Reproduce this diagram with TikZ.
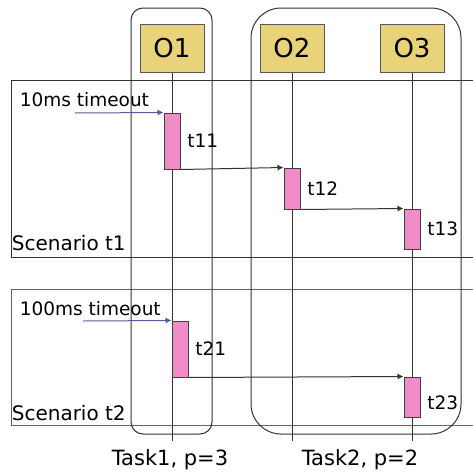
\documentclass[tikz,border=0pt]{standalone}
\usepackage{fontspec}
\setmainfont{DejaVu Sans}
\usetikzlibrary{arrows.meta}
\definecolor{objfill}{RGB}{232,210,122}
\definecolor{actfill}{RGB}{242,140,200}
\definecolor{tmline}{RGB}{90,90,150}

\begin{document}
\begin{tikzpicture}[x=1pt,y=-1pt,line width=1pt,
  obj/.style={draw=gray!70!black,fill=objfill,minimum width=64pt,minimum height=48pt,inner sep=0pt,font=\fontsize{26}{28}\selectfont},
  act/.style={draw=black!75,fill=actfill,minimum width=16pt,inner sep=0pt},
  lbl/.style={font=\fontsize{18.5}{20}\selectfont},
  msg/.style={-{Latex[length=6pt,width=6pt]},black!80}]
\useasboundingbox (0,0) rectangle (473,474);
% scenario frames, open to the right
\draw[black!80] (473,80) -- (11,80) -- (11,257) -- (473,257);
\draw[tmline] (473,289) -- (11,289) -- (11,425) -- (473,425);
% task frames
\draw[black!80,rounded corners=12] (131,8) rectangle (212,434);
\draw[black!80,rounded corners=30] (251,8) rectangle (461,434);
% objects and lifelines
\foreach \n/\x in {1/172,2/292,3/412} {
  \node[obj] (o\n) at (\x,48) {O\n};
  \coordinate (e\n) at (\x,441);
  \draw[black!80] (o\n) -- (e\n);
}
% activations
\node[act,minimum height=56pt,label={[lbl,label distance=3pt]right:t11}] (t11) at (172,141) {};
\node[act,minimum height=41pt,label={[lbl,label distance=3pt]right:t12}] (t12) at (292,188.5) {};
\node[act,minimum height=40pt,label={[lbl,label distance=3pt]right:t13}] (t13) at (412,229) {};
\node[act,minimum height=56pt,label={[lbl,label distance=3pt]right:t21}] (t21) at (180,349) {};
\node[act,minimum height=40pt,label={[lbl,label distance=3pt,yshift=-6pt]right:t23}] (t23) at (412,397) {};
% timeouts and messages
\coordinate (tm1) at (75,113);
\coordinate (tm2) at (83,321);
\draw[msg,tmline] (tm1) -- (t11.north west);
\draw[msg] (t11.south east) -- (t12.north west);
\draw[msg] (t12.south east) -- (t13.north west);
\draw[msg,tmline] (tm2) -- (t21.north west);
\draw[msg] (t21.south east) -- (t23.north west);
% texts
\node[lbl,anchor=west] (to1) at (16,100) {10ms timeout};
\node[lbl,anchor=west] (to2) at (16,309) {100ms timeout};
\node[font=\fontsize{20}{22}\selectfont,anchor=west] (sc1) at (8,243) {Scenario t1};
\node[font=\fontsize{20}{22}\selectfont,anchor=west] (sc2) at (8,413) {Scenario t2};
\node[font=\fontsize{21}{23}\selectfont] (task1) at (170,460) {Task1, p=3};
\node[font=\fontsize{21}{23}\selectfont] (task2) at (360,460) {Task2, p=2};
\end{tikzpicture}
\end{document}
